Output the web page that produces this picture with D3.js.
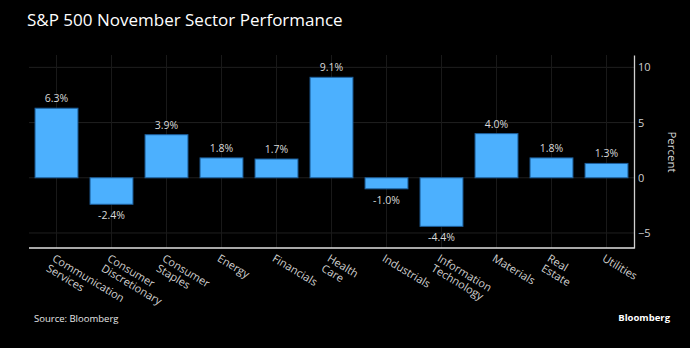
<!DOCTYPE html>
<html>
<head>
<meta charset="utf-8">
<script src="https://cdn.jsdelivr.net/npm/d3@7"></script>
<style>
  body { margin: 0; background: #000; }
  svg { display: block; font-family: "Open Sans", sans-serif; }
</style>
</head>
<body>
<svg id="chart" width="690" height="348"></svg>
<script>
// # DATA
// # ------------------------------
var sectors = [
  ["Communication", "Services"],
  ["Consumer", "Discretionary"],
  ["Consumer", "Staples"],
  ["Energy"],
  ["Financials"],
  ["Health", "Care"],
  ["Industrials"],
  ["Information", "Technology"],
  ["Materials"],
  ["Real", "Estate"],
  ["Utilities"]
];
var returns    = [6.3, -2.4, 3.9, 1.8, 1.7, 9.1, -1.0, -4.4, 4.0, 1.8, 1.3];
var yTicks     = [-5, 0, 5, 10];
var yDomain    = [-6.36, 11.12];

// # LAYOUT
// # ------------------------------
var svg = d3.select("#chart");
var plotLeft = 29, plotRight = 634, plotTop = 55, plotBottom = 248;

var x = d3.scaleBand()
    .domain(d3.range(sectors.length))
    .range([plotLeft, plotRight])
    .paddingInner(0.22)
    .paddingOuter(0.11);

var y = d3.scaleLinear()
    .domain(yDomain)
    .range([plotBottom, plotTop]);

var fmtTick = function(d) { return d < 0 ? "\u2212" + Math.abs(d) : d; };

// ## gridlines
// # ------------------------------
svg.append("g")
  .selectAll("line")
  .data(yTicks)
  .join("line")
    .attr("x1", plotLeft).attr("x2", plotRight)
    .attr("y1", function(d) { return y(d); })
    .attr("y2", function(d) { return y(d); })
    .attr("stroke", "#1f1f1f");

svg.append("g")
  .selectAll("line")
  .data(d3.range(sectors.length))
  .join("line")
    .attr("x1", function(d) { return x(d) + x.bandwidth() / 2; })
    .attr("x2", function(d) { return x(d) + x.bandwidth() / 2; })
    .attr("y1", plotTop).attr("y2", plotBottom)
    .attr("stroke", "#191919");

// ## bars
// # ------------------------------
svg.append("g")
  .selectAll("rect")
  .data(returns)
  .join("rect")
    .attr("x", function(d, i) { return x(i); })
    .attr("y", function(d) { return y(Math.max(0, d)); })
    .attr("width", x.bandwidth())
    .attr("height", function(d) { return Math.abs(y(d) - y(0)); })
    .attr("fill", "#4cb0fe")
    .attr("stroke", "#1d5f9c")
    .attr("stroke-width", 1);

// ## value labels
// # ------------------------------
svg.append("g")
  .selectAll("text")
  .data(returns)
  .join("text")
    .attr("x", function(d, i) { return x(i) + x.bandwidth() / 2; })
    .attr("y", function(d) { return d >= 0 ? y(d) - 6 : y(d) + 15; })
    .attr("text-anchor", "middle")
    .attr("fill", "#d9d9d9")
    .style("font-size", "10.5px")
    .text(function(d) { return d.toFixed(1) + "%"; });

// ## axes
// # ------------------------------
var yAxis = svg.append("g")
    .attr("transform", "translate(" + plotRight + ",0)")
    .call(d3.axisRight(y).tickValues(yTicks).tickSize(0).tickPadding(4).tickFormat(fmtTick));
yAxis.select(".domain").attr("stroke", "#d0d0d0").attr("stroke-width", 1.3);
yAxis.selectAll("text")
    .attr("fill", "#cfcfcf")
    .style("font-size", "11px")
    .style("font-family", "Open Sans, sans-serif");

svg.append("line")
    .attr("x1", plotLeft).attr("x2", plotRight + 0.6)
    .attr("y1", plotBottom).attr("y2", plotBottom)
    .attr("stroke", "#e0e0e0")
    .attr("stroke-width", 1.3);

var xLabels = svg.append("g")
  .selectAll("text")
  .data(sectors)
  .join("text")
    .attr("transform", function(d, i) {
      return "translate(" + (x(i) + x.bandwidth() / 2) + "," + (plotBottom + 4) + ") rotate(31)";
    })
    .attr("fill", "#cfcfcf")
    .style("font-size", "11px");

xLabels.selectAll("tspan")
  .data(function(d) { return d; })
  .join("tspan")
    .attr("x", 0)
    .attr("dy", function(d, i) { return i === 0 ? "0.9em" : "1.05em"; })
    .text(function(d) { return d; });

svg.append("text")
    .attr("transform", "translate(668,152) rotate(90)")
    .attr("text-anchor", "middle")
    .attr("fill", "#d9d9d9")
    .style("font-size", "11.5px")
    .text("Percent");

// ## titles
// # ------------------------------
svg.append("text")
    .attr("x", 27).attr("y", 26)
    .attr("fill", "#ffffff")
    .style("font-size", "17px")
    .text("S&P 500 November Sector Performance");

svg.append("text")
    .attr("x", 34).attr("y", 322)
    .attr("fill", "#e6e6e6")
    .style("font-size", "9.5px")
    .text("Source: Bloomberg");

svg.append("text")
    .attr("x", 670).attr("y", 321)
    .attr("text-anchor", "end")
    .attr("fill", "#ffffff")
    .style("font-size", "9.5px")
    .style("font-weight", "bold")
    .text("Bloomberg");
</script>
</body>
</html>
